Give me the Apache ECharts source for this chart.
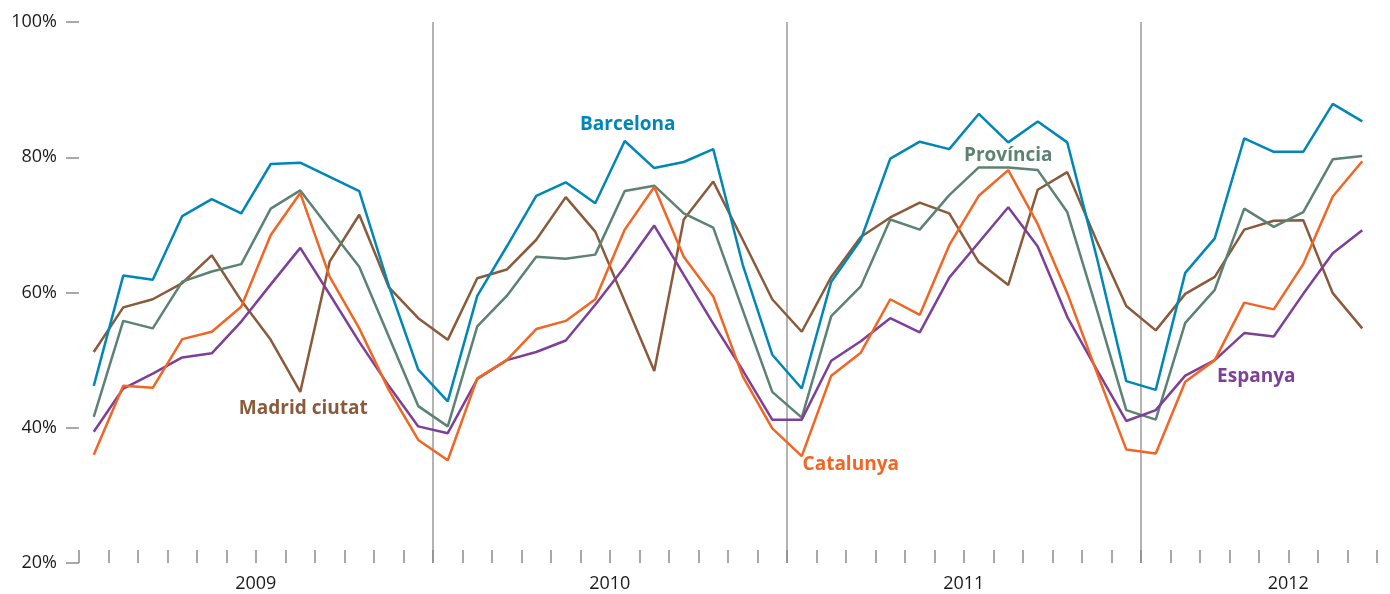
<!DOCTYPE html>
<html>
<head>
<meta charset="utf-8">
<title>Ocupació</title>
<script src="https://cdn.jsdelivr.net/npm/echarts@6/dist/echarts.min.js"></script>
<style>
  html, body { margin: 0; padding: 0; background: #fff; }
  #main { width: 1390px; height: 594px; }
</style>
</head>
<body>
<div id="main"></div>
<script>
// mesos (gen 2009 - ago 2012)
var months = [
  '2009-01','2009-02','2009-03','2009-04','2009-05','2009-06','2009-07','2009-08','2009-09','2009-10','2009-11','2009-12',
  '2010-01','2010-02','2010-03','2010-04','2010-05','2010-06','2010-07','2010-08','2010-09','2010-10','2010-11','2010-12',
  '2011-01','2011-02','2011-03','2011-04','2011-05','2011-06','2011-07','2011-08','2011-09','2011-10','2011-11','2011-12',
  '2012-01','2012-02','2012-03','2012-04','2012-05','2012-06','2012-07','2012-08'
];
// on surt el rotul de l'any
var yearLabelMonths = ['2009-06', '2010-06', '2011-06', '2012-05'];
var yearStartMonths = ['2010-01', '2011-01', '2012-01'];

var barcelona = [
  46.2, 62.5, 61.9, 71.3, 73.8, 71.7, 79.0, 79.2, 77.1, 75.0, 61.0, 48.6,
  43.9, 59.5, 66.8, 74.3, 76.3, 73.2, 82.4, 78.4, 79.3, 81.2, 64.1, 50.8,
  45.8, 61.6, 67.8, 79.8, 82.3, 81.2, 86.4, 82.2, 85.3, 82.2, 65.2, 46.9,
  45.6, 62.9, 68.0, 82.8, 80.8, 80.8, 87.9, 85.3
];
var provincia = [
  41.6, 55.8, 54.7, 61.6, 63.1, 64.2, 72.4, 75.1, 69.4, 63.8, 53.5, 43.2,
  40.2, 55.0, 59.5, 65.3, 65.0, 65.6, 75.0, 75.8, 71.7, 69.6, 57.4, 45.3,
  41.5, 56.5, 60.9, 70.8, 69.3, 74.4, 78.5, 78.5, 78.1, 71.9, 57.5, 42.6,
  41.2, 55.5, 60.4, 72.4, 69.7, 71.9, 79.7, 80.2
];
var catalunya = [
  36.0, 46.2, 45.9, 53.1, 54.2, 57.9, 68.5, 74.7, 62.3, 54.7, 45.6, 38.2,
  35.2, 47.3, 50.0, 54.6, 55.8, 59.0, 69.3, 75.6, 65.3, 59.4, 47.6, 39.9,
  35.8, 47.7, 51.1, 59.0, 56.7, 67.0, 74.3, 78.1, 70.1, 59.9, 48.2, 36.8,
  36.2, 46.8, 50.0, 58.5, 57.5, 64.2, 74.2, 79.4
];
var espanya = [
  39.4, 45.8, 48.0, 50.4, 51.0, 55.7, 61.2, 66.6, 59.7, 52.7, 46.2, 40.2,
  39.2, 47.2, 50.0, 51.2, 52.9, 58.2, 63.8, 69.9, 62.6, 55.4, 48.5, 41.2,
  41.2, 49.9, 52.8, 56.2, 54.1, 62.2, 67.4, 72.6, 66.8, 56.4, 48.6, 41.0,
  42.6, 47.7, 50.0, 54.0, 53.5, 59.8, 65.8, 69.2
];
var madrid = [
  51.2, 57.8, 59.0, 61.4, 65.5, 58.8, 53.0, 45.3, 64.6, 71.5, 60.8, 56.2,
  53.0, 62.1, 63.4, 67.8, 74.1, 69.0, 58.7, 48.4, 70.8, 76.4, 67.8, 59.0,
  54.2, 62.3, 68.2, 71.1, 73.3, 71.7, 64.5, 61.1, 75.2, 77.8, 67.6, 58.0,
  54.4, 59.8, 62.3, 69.3, 70.6, 70.7, 59.9, 54.7
];

var chart = echarts.init(document.getElementById('main'));

var nameFont = { fontFamily: 'Open Sans', fontWeight: 'bold', fontSize: 19 };

function line(name, data, color, labelAt, labelValue, dx) {
  return {
    name: name,
    type: 'line',
    data: data,
    symbol: 'none',
    smooth: false,
    animation: false,
    lineStyle: { color: color, width: 2.5 },
    itemStyle: { color: color },
    markPoint: {
      symbol: 'circle',
      symbolSize: 0,
      silent: true,
      data: [{
        coord: [labelAt, labelValue],
        label: Object.assign({
          show: true,
          position: 'inside',
          offset: [dx, 0],
          color: color,
          formatter: name
        }, nameFont)
      }]
    }
  };
}

chart.setOption({
  animation: false,
  grid: { left: 79, right: 13, top: 22, bottom: 31 },
  xAxis: {
    type: 'category',
    data: months,
    boundaryGap: true,
    axisLine: { show: false },
    axisTick: {
      show: true,
      inside: true,
      length: 13,
      interval: 0,
      lineStyle: { color: '#8c8c8c', width: 1.5 }
    },
    splitLine: {
      show: true,
      showMaxLine: false,
      interval: function (i, v) { return yearStartMonths.indexOf(v) >= 0; },
      lineStyle: { color: '#9a9a9a', width: 1.5 }
    },
    axisLabel: {
      interval: function (i, v) { return yearLabelMonths.indexOf(v) >= 0; },
      formatter: function (v) { return v.slice(0, 4); },
      padding: [0, 0, 0, 29],
      margin: 12,
      fontFamily: 'Open Sans',
      fontSize: 18,
      color: '#1a1a1a'
    }
  },
  yAxis: {
    type: 'value',
    min: 20,
    max: 100,
    interval: 20,
    axisLine: { show: false },
    splitLine: { show: false },
    axisTick: {
      show: true,
      length: 13,
      lineStyle: { color: '#8c8c8c', width: 1.5 }
    },
    axisLabel: {
      formatter: '{value}%',
      margin: 22,
      fontFamily: 'Open Sans',
      fontSize: 18,
      color: '#1a1a1a'
    }
  },
  series: [
    line('Madrid ciutat', madrid, '#8a5a3b', '2009-08', 42.9, 3),
    line('Província', provincia, '#5b8272', '2011-08', 80.3, 0),
    line('Barcelona', barcelona, '#0087b7', '2010-07', 84.8, 3),
    line('Espanya', espanya, '#7d3f98', '2012-04', 47.6, 12),
    line('Catalunya', catalunya, '#f26522', '2011-03', 34.6, -10)
  ]
});
</script>
</body>
</html>
